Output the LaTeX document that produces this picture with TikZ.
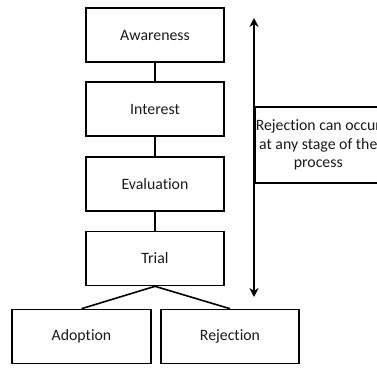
\documentclass[tikz,border=0pt]{standalone}
\usepackage{fontspec}
\setmainfont[Ligatures=NoCommon]{Carlito}
\usetikzlibrary{arrows.meta}
\begin{document}
\begin{tikzpicture}[x=1pt,y=-1pt,
  stagebox/.style={draw, line width=1.6pt, rectangle, minimum width=138pt,
    minimum height=54pt, inner sep=0pt, font=\fontsize{15.8}{18}\selectfont,
    text=black!90},
  link/.style={line width=1.6pt},
  notebox/.style={draw, line width=1.6pt, rectangle, minimum width=127pt,
    minimum height=76pt, inner sep=0pt, align=center,
    font=\fontsize{15.8}{18.5}\selectfont, text=black!90}]
\useasboundingbox (0,0) rectangle (377,367);

% adoption process stages
\node[stagebox] (aw) at (155,35) {Awareness};
\node[stagebox] (in) at (155,109) {Interest};
\node[stagebox] (ev) at (155,184) {Evaluation};
\node[stagebox] (tr) at (155,258.5) {Trial};
\node[stagebox, minimum width=139pt] (ad) at (81.5,336.5) {Adoption};
\node[stagebox] (rj) at (230,336.5) {Rejection};

\draw[link] (aw.south) -- (in.north);
\draw[link] (in.south) -- (ev.north);
\draw[link] (ev.south) -- (tr.north);
\draw[link] (tr.south) -- (ad.north);
\draw[link] (tr.south) -- (rj.north);

% span of the whole process
\coordinate (top) at (254,18);
\coordinate (bot) at (254,297);
\draw[line width=1.6pt, {Stealth[length=9pt,width=9pt,inset=3pt]}-{Stealth[length=9pt,width=9pt,inset=3pt]}] (top) -- (bot);

\node[notebox, anchor=west] (note) at (254,145)
  {Rejection can occur\\at any stage of the\\process};
\end{tikzpicture}
\end{document}
